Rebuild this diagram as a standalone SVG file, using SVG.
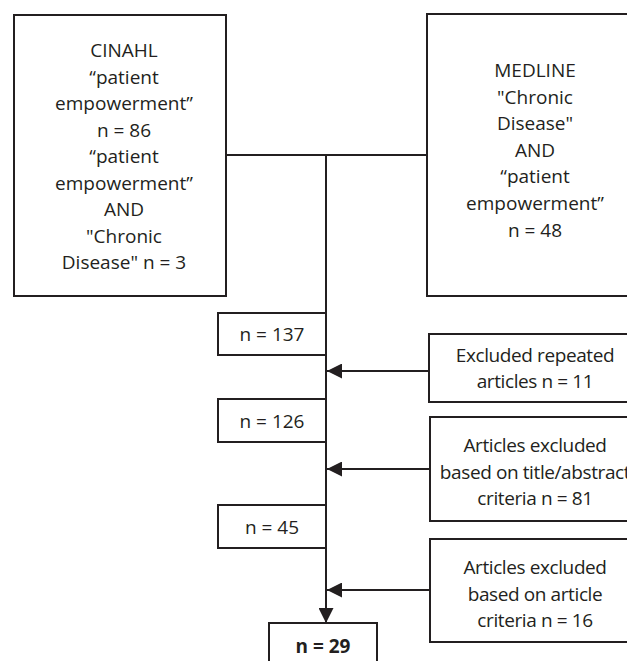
<svg xmlns="http://www.w3.org/2000/svg" width="627" height="661" viewBox="0 0 627 661">
<defs>
<style>
.box{fill:#fff;stroke:#231f20;stroke-width:2}
.ln{fill:none;stroke:#231f20;stroke-width:2}
.t{font-family:"Open Sans","Liberation Sans",sans-serif;font-size:19px;fill:#231f20;text-anchor:middle}
.s{letter-spacing:-0.4px}
.b{font-weight:bold}
</style>
<marker id="ah" markerWidth="15" markerHeight="15" refX="15" refY="7.5" orient="auto" markerUnits="userSpaceOnUse">
<path d="M0,0 L15,7.5 L0,15 Z" fill="#231f20"/>
</marker>
</defs>
<rect width="627" height="661" fill="#fff"/>
<g id="connectors">
<line class="ln" x1="226" y1="155" x2="427" y2="155"/>
<line class="ln" x1="326" y1="155" x2="326" y2="623" marker-end="url(#ah)"/>
<line class="ln" x1="429" y1="371" x2="327" y2="371" marker-end="url(#ah)"/>
<line class="ln" x1="430" y1="469" x2="327" y2="469" marker-end="url(#ah)"/>
<line class="ln" x1="430" y1="590" x2="327" y2="590" marker-end="url(#ah)"/>
</g>
<g id="cinahl">
<rect class="box" x="14" y="15" width="212" height="281"/>
<text class="t"><tspan x="124" y="57">CINAHL</tspan><tspan x="124" y="83.5">“patient</tspan><tspan x="124" y="110">empowerment”</tspan><tspan x="124" y="136.5">n = 86</tspan><tspan x="124" y="163">“patient</tspan><tspan x="124" y="189.5">empowerment”</tspan><tspan x="124" y="216">AND</tspan><tspan x="124" y="242.5">"Chronic</tspan><tspan x="124" y="269">Disease" n = 3</tspan></text>
</g>
<g id="medline">
<rect class="box" x="427" y="14" width="220" height="282"/>
<text class="t"><tspan x="535" y="77">MEDLINE</tspan><tspan x="535" y="103.5">"Chronic</tspan><tspan x="535" y="130">Disease"</tspan><tspan x="535" y="156.5">AND</tspan><tspan x="535" y="183">“patient</tspan><tspan x="535" y="210">empowerment”</tspan><tspan x="535" y="237">n = 48</tspan></text>
</g>
<g id="n137">
<rect class="box" x="218" y="313" width="108" height="42"/>
<text class="t" x="272" y="341">n = 137</text>
</g>
<g id="excl-repeated">
<rect class="box" x="429" y="334" width="220" height="68"/>
<text class="t s"><tspan x="535" y="362">Excluded repeated</tspan><tspan x="535" y="388">articles n = 11</tspan></text>
</g>
<g id="n126">
<rect class="box" x="218" y="399" width="108" height="43"/>
<text class="t" x="272" y="428">n = 126</text>
</g>
<g id="excl-title">
<rect class="box" x="430" y="417" width="220" height="104"/>
<text class="t s"><tspan x="535" y="452">Articles excluded</tspan><tspan x="535" y="478.5">based on title/abstract</tspan><tspan x="535" y="505">criteria n = 81</tspan></text>
</g>
<g id="n45">
<rect class="box" x="218" y="505" width="108" height="43"/>
<text class="t" x="272" y="534">n = 45</text>
</g>
<g id="excl-article">
<rect class="box" x="430" y="539" width="220" height="103"/>
<text class="t s"><tspan x="535" y="574">Articles excluded</tspan><tspan x="535" y="600.5">based on article</tspan><tspan x="535" y="627">criteria n = 16</tspan></text>
</g>
<g id="n29">
<rect class="box" x="269" y="623" width="108" height="50"/>
<text class="t b" x="323" y="653">n = 29</text>
</g>
</svg>
